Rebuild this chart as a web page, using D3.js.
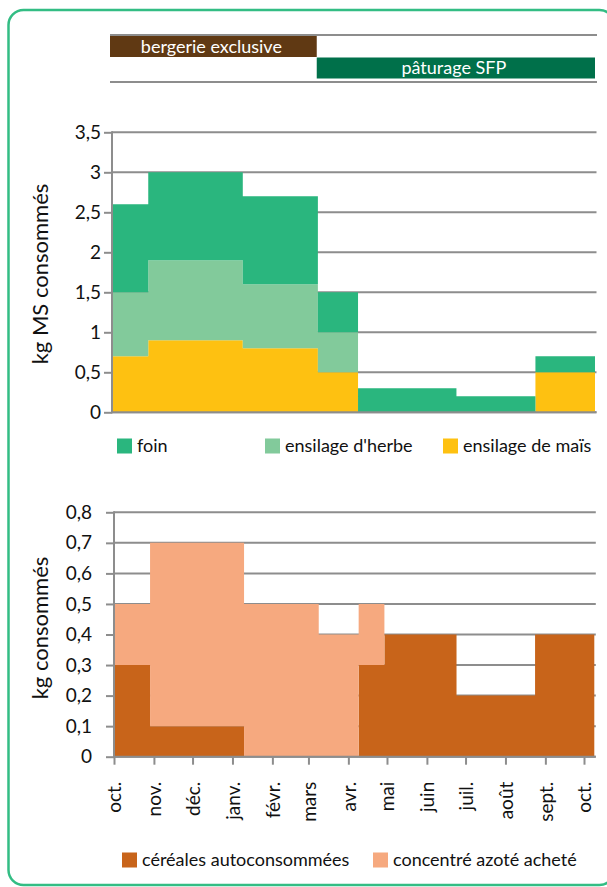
<!DOCTYPE html>
<html>
<head>
<meta charset="utf-8">
<script src="https://cdn.jsdelivr.net/npm/d3@7"></script>
<style>
  body { margin: 0; background: #fff; }
  svg text { font-family: Lato, "Open Sans", sans-serif; }
</style>
</head>
<body>
<div id="chart"></div>
<script>
// periods (start dates), shared by both charts
const periodStarts = ["2010-10-01", "2010-10-29", "2011-01-10", "2011-03-09", "2011-04-09", "2011-04-29", "2011-06-24", "2011-08-24"];
const periodEnd = "2011-10-09";

// kg MS consommés
const foin = [1.1, 1.1, 1.1, 0.5, 0.3, 0.3, 0.2, 0.2];
const ensilageHerbe = [0.8, 1.0, 0.8, 0.5, 0, 0, 0, 0];
const ensilageMais = [0.7, 0.9, 0.8, 0.5, 0, 0, 0, 0.5];

// kg consommés
const cereales = [0.3, 0.1, 0, 0, 0.3, 0.4, 0.2, 0.4];
const concentre = [0.2, 0.6, 0.5, 0.4, 0.2, 0, 0, 0];

const monthTicks = ["2010-10-01", "2010-11-01", "2010-12-01", "2011-01-01", "2011-02-01", "2011-03-01", "2011-04-01",
  "2011-05-01", "2011-06-01", "2011-07-01", "2011-08-01", "2011-09-01", "2011-10-01"];
const monthLabels = ["oct.", "nov.", "déc.", "janv.", "févr.", "mars", "avr.", "mai", "juin", "juil.", "août", "sept.", "oct."];
const topTicks = [0, 0.5, 1, 1.5, 2, 2.5, 3, 3.5];
const bottomTicks = [0, 0.1, 0.2, 0.3, 0.4, 0.5, 0.6, 0.7, 0.8];

const periodsTop = [
  { name: "bergerie exclusive", from: "2010-10-01", to: "2011-03-09", row: 0 },
  { name: "pâturage SFP", from: "2011-03-09", to: periodEnd, row: 1 }
];

const parse = d3.timeParse("%Y-%m-%d");
const fmt = d => String(d).replace(".", ",");
const GRID = "#8d8d8d";

const svg = d3.select("#chart").append("svg")
  .attr("width", 607)
  .attr("height", 887);

// outer rounded frame
svg.append("rect")
  .attr("x", 8.5).attr("y", 10)
  .attr("width", 606).attr("height", 875)
  .attr("rx", 15).attr("ry", 15)
  .style("fill", "none")
  .style("stroke", "#33bd84")
  .style("stroke-width", 2.5);

function buildRows(keys, cols) {
  const rows = periodStarts.map((s, i) => {
    const r = { date: parse(s) };
    keys.forEach((k, j) => r[k] = cols[j][i]);
    return r;
  });
  const last = Object.assign({}, rows[rows.length - 1], { date: parse(periodEnd) });
  rows.push(last);
  return rows;
}

function drawChart(opts) {
  const x = d3.scaleTime().domain([parse(periodStarts[0]), parse(periodEnd)]).range(opts.xRange);
  const y = d3.scaleLinear().domain(opts.yDomain).range(opts.yRange);
  const g = svg.append("g");

  // gridlines
  g.append("g")
    .selectAll("line")
    .data(opts.ticks)
    .enter()
    .append("line")
    .attr("x1", opts.xRange[0])
    .attr("x2", opts.xRange[1] + 1.5)
    .attr("y1", d => y(d))
    .attr("y2", d => y(d))
    .style("stroke", GRID)
    .style("stroke-width", 2);

  // stacked step areas
  const rows = buildRows(opts.keys, opts.cols);
  const series = d3.stack().keys(opts.keys)(rows);
  const area = d3.area()
    .x(d => x(d.data.date))
    .y0(d => y(d[0]))
    .y1(d => y(d[1]))
    .curve(d3.curveStepAfter);

  g.selectAll(".layer")
    .data(series)
    .enter()
    .append("path")
    .attr("class", "layer")
    .attr("d", area)
    .style("fill", (d, i) => opts.colors[i]);

  // baseline again on top
  g.append("line")
    .attr("x1", opts.xRange[0]).attr("x2", opts.xRange[1] + 1.5)
    .attr("y1", y(0)).attr("y2", y(0))
    .style("stroke", GRID).style("stroke-width", 2);

  // left axis
  const left = g.append("g")
    .attr("transform", `translate(${opts.xRange[0]}, 0)`)
    .call(d3.axisLeft(y).tickValues(opts.ticks).tickSize(8).tickPadding(opts.pad).tickFormat(fmt));
  left.select(".domain").remove();
  left.append("line")
    .attr("x1", 0).attr("x2", 0)
    .attr("y1", opts.yRange[1] - 1).attr("y2", opts.yRange[0] + 1)
    .style("stroke", GRID).style("stroke-width", 2);
  left.selectAll(".tick line").style("stroke", GRID).style("stroke-width", 2);
  left.selectAll("text")
    .style("font-size", "19px")
    .style("fill", "#111");

  // axis title
  g.append("text")
    .attr("transform", `translate(${opts.titleX}, ${opts.titleY}) rotate(-90)`)
    .attr("text-anchor", "middle")
    .attr("dy", "0.35em")
    .style("font-size", "22px")
    .style("fill", "#111")
    .text(opts.title);

  return { x, y, g };
}

// banner
function createBanner() {
  const x = d3.scaleTime().domain([parse(periodStarts[0]), parse(periodEnd)]).range([110, 595]);
  const rowY = [36, 57.5], rowH = 21;
  const colors = ["#603913", "#00704a"];
  [35, 82].forEach(yy => {
    svg.append("line")
      .attr("x1", 110).attr("x2", 597)
      .attr("y1", yy).attr("y2", yy)
      .style("stroke", GRID).style("stroke-width", 2);
  });
  const b = svg.selectAll(".band")
    .data(periodsTop)
    .enter()
    .append("g")
    .attr("class", "band");
  b.append("rect")
    .attr("x", d => x(parse(d.from)))
    .attr("y", d => rowY[d.row])
    .attr("width", d => x(parse(d.to)) - x(parse(d.from)))
    .attr("height", rowH)
    .style("fill", d => colors[d.row]);
  b.append("text")
    .attr("x", d => (x(parse(d.from)) + x(parse(d.to))) / 2 - 2)
    .attr("y", d => rowY[d.row] + rowH / 2)
    .attr("dy", "0.35em")
    .attr("text-anchor", "middle")
    .style("font-size", "18px")
    .style("fill", "#fff")
    .text(d => d.name);
}

function createLegend(items, yPos) {
  const l = svg.selectAll(".lg" + yPos)
    .data(items)
    .enter()
    .append("g");
  l.append("rect")
    .attr("x", d => d.x)
    .attr("y", yPos - 7.5)
    .attr("width", 15)
    .attr("height", 15)
    .style("fill", d => d.color);
  l.append("text")
    .attr("x", d => d.x + 20)
    .attr("y", yPos)
    .attr("dy", "0.35em")
    .style("font-size", "18px")
    .style("fill", "#111")
    .text(d => d.label);
}

createBanner();

drawChart({
  xRange: [112, 595],
  yDomain: [0, 3.5],
  yRange: [412.3, 132.3],
  ticks: topTicks,
  pad: 3,
  keys: ["mais", "herbe", "foin"],
  cols: [ensilageMais, ensilageHerbe, foin],
  colors: ["#fec111", "#82ca9b", "#2ab67e"],
  title: "kg MS consommés",
  titleX: 40,
  titleY: 274
});

createLegend([
  { label: "foin", color: "#2ab67e", x: 117 },
  { label: "ensilage d'herbe", color: "#82ca9b", x: 265 },
  { label: "ensilage de maïs", color: "#fec111", x: 443 }
], 446);

const bottom = drawChart({
  xRange: [114, 594.3],
  yDomain: [0, 0.8],
  yRange: [756.7, 512.3],
  ticks: bottomTicks,
  pad: 14,
  keys: ["cereales", "concentre"],
  cols: [cereales, concentre],
  colors: ["#c8641a", "#f6a97f"],
  title: "kg consommés",
  titleX: 40,
  titleY: 628
});

// month axis
const xAxis = bottom.g.append("g")
  .attr("transform", `translate(0, ${bottom.y(0)})`)
  .call(d3.axisBottom(bottom.x)
    .tickValues(monthTicks.map(parse))
    .tickSize(8)
    .tickFormat((d, i) => monthLabels[i]));
xAxis.select(".domain").remove();
xAxis.selectAll(".tick line").style("stroke", GRID).style("stroke-width", 2);
xAxis.selectAll("text")
  .attr("transform", "rotate(-90)")
  .attr("x", -25)
  .attr("y", 0)
  .attr("dy", "0.35em")
  .attr("text-anchor", "end")
  .style("font-size", "19px")
  .style("fill", "#111");

createLegend([
  { label: "céréales autoconsommées", color: "#c8641a", x: 122 },
  { label: "concentré azoté acheté", color: "#f6a97f", x: 373 }
], 860);
</script>
</body>
</html>
